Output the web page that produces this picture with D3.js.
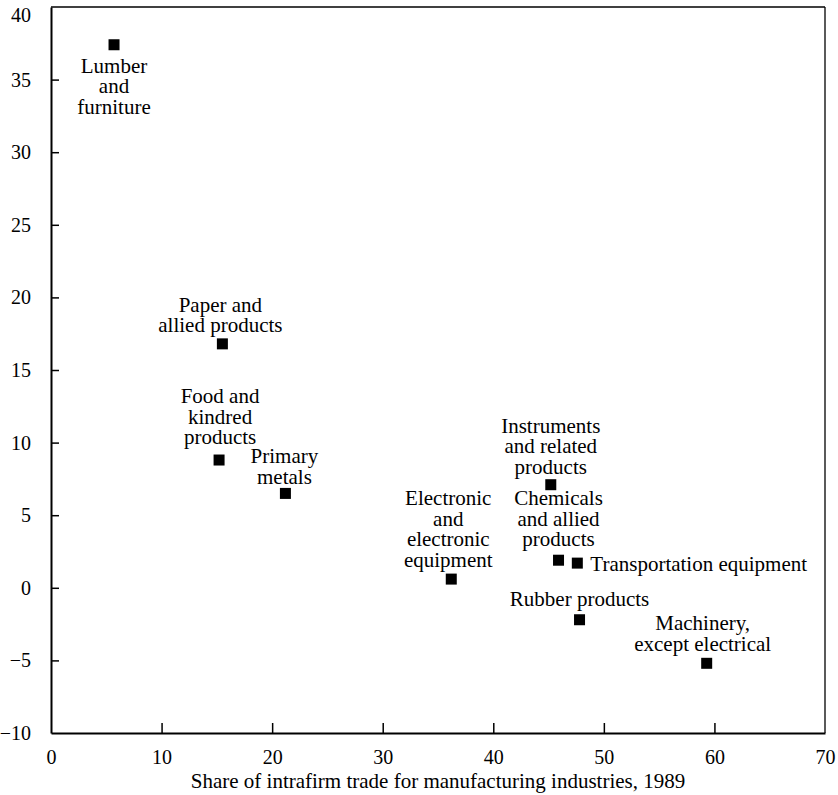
<!DOCTYPE html>
<html>
<head>
<meta charset="utf-8">
<script src="https://cdn.jsdelivr.net/npm/d3@7"></script>
<style>
  html, body { margin: 0; padding: 0; background: #fff; }
</style>
</head>
<body>
<svg id="chart" width="838" height="795"></svg>
<script>
// ---- Data ----
const industries = [
  "Lumber and furniture",
  "Paper and allied products",
  "Food and kindred products",
  "Primary metals",
  "Electronic and electronic equipment",
  "Instruments and related products",
  "Chemicals and allied products",
  "Transportation equipment",
  "Rubber products",
  "Machinery, except electrical"
];
const intrafirmShare = [5.7, 15.5, 15.2, 21.2, 36.2, 45.2, 45.9, 47.6, 47.8, 59.3];
const yValues = [37.4, 16.8, 8.8, 6.5, 0.6, 7.1, 1.9, 1.7, -2.2, -5.2];
const labelLines = [
  ["Lumber", "and", "furniture"],
  ["Paper and", "allied products"],
  ["Food and", "kindred", "products"],
  ["Primary", "metals"],
  ["Electronic", "and", "electronic", "equipment"],
  ["Instruments", "and related", "products"],
  ["Chemicals", "and allied", "products"],
  ["Transportation equipment"],
  ["Rubber products"],
  ["Machinery,", "except electrical"]
];
const xTicks = [0, 10, 20, 30, 40, 50, 60, 70];
const yTicks = [-10, -5, 0, 5, 10, 15, 20, 25, 30, 35, 40];
const xTitle = "Share of intrafirm trade for manufacturing industries, 1989";

const FONT = '"Liberation Serif", "Times New Roman", Tinos, serif';
const FS_TICK = 20;
const FS_LABEL = 21;

// ---- Layout (label placement relative to point, in px) ----
const labelLayout = [
  { dx: 0,  dy: 28,  anchor: "middle" },
  { dx: -2, dy: -32, anchor: "middle" },
  { dx: 1,  dy: -57, anchor: "middle" },
  { dx: -1, dy: -30, anchor: "middle" },
  { dx: -3, dy: -74, anchor: "middle" },
  { dx: 0,  dy: -52, anchor: "middle" },
  { dx: 0,  dy: -55, anchor: "middle" },
  { dx: 13, dy: 8,   anchor: "start" },
  { dx: 0,  dy: -14, anchor: "middle" },
  { dx: -4, dy: -33, anchor: "middle" }
];
const lineGap = 20.5;

const margin = { left: 51, right: 13, top: 7, bottom: 62 };
const W = 838, H = 795;
const svg = d3.select("#chart");

const x = d3.scaleLinear().domain([0, 70]).range([margin.left, W - margin.right]);
const y = d3.scaleLinear().domain([-10, 40]).range([H - margin.bottom, margin.top]);

// Frame: top and right thinner
svg.append("line").attr("x1", x(0)).attr("x2", x(70)).attr("y1", y(40)).attr("y2", y(40))
  .attr("stroke", "#000").attr("stroke-width", 1.3);
svg.append("line").attr("x1", x(70)).attr("x2", x(70)).attr("y1", y(40)).attr("y2", y(-10))
  .attr("stroke", "#000").attr("stroke-width", 1.3);

// Axes
const xAxis = d3.axisBottom(x).tickValues(xTicks).tickSizeInner(-10).tickSizeOuter(0).tickPadding(17);
const gx = svg.append("g").attr("transform", `translate(0,${y(-10)})`).call(xAxis);
const yAxis = d3.axisLeft(y).tickValues(yTicks).tickSizeInner(-8).tickSizeOuter(0).tickPadding(20);
const gy = svg.append("g").attr("transform", `translate(${x(0)},0)`).call(yAxis);

[gx, gy].forEach(g => {
  g.attr("font-family", FONT).attr("font-size", FS_TICK);
  g.select(".domain").attr("stroke", "#000").attr("stroke-width", 2);
  g.selectAll(".tick line").attr("stroke", "#000").attr("stroke-width", 1.5);
  g.selectAll(".tick text").attr("fill", "#000");
});
gx.selectAll(".tick").filter(d => d === 0 || d === 70).select("line").remove();
gy.selectAll(".tick").filter(d => d === 40 || d === -10).select("line").remove();
gy.selectAll(".tick text").text(d => d < 0 ? "\u2212" + Math.abs(d) : d);
gy.selectAll(".tick").filter(d => d === 40).select("text").attr("dy", "0.7em");

// X title
svg.append("text").attr("x", (x(0) + x(70)) / 2).attr("y", 788)
  .attr("text-anchor", "middle").attr("font-family", FONT).attr("font-size", FS_LABEL).text(xTitle);

// Points
const data = industries.map((name, i) => ({
  name, xv: intrafirmShare[i], yv: yValues[i], lines: labelLines[i], lay: labelLayout[i]
}));
const sq = 11;
svg.append("g").selectAll("rect").data(data).join("rect")
  .attr("x", d => x(d.xv) - sq / 2).attr("y", d => y(d.yv) - sq / 2)
  .attr("width", sq).attr("height", sq).attr("fill", "#000");

// Labels
const lg = svg.append("g").attr("font-family", FONT).attr("font-size", FS_LABEL);
data.forEach(d => {
  const t = lg.append("text").attr("text-anchor", d.lay.anchor);
  d.lines.forEach((ln, j) => {
    t.append("tspan")
      .attr("x", x(d.xv) + d.lay.dx)
      .attr("y", y(d.yv) + d.lay.dy + j * lineGap)
      .text(ln);
  });
});
</script>
</body>
</html>
